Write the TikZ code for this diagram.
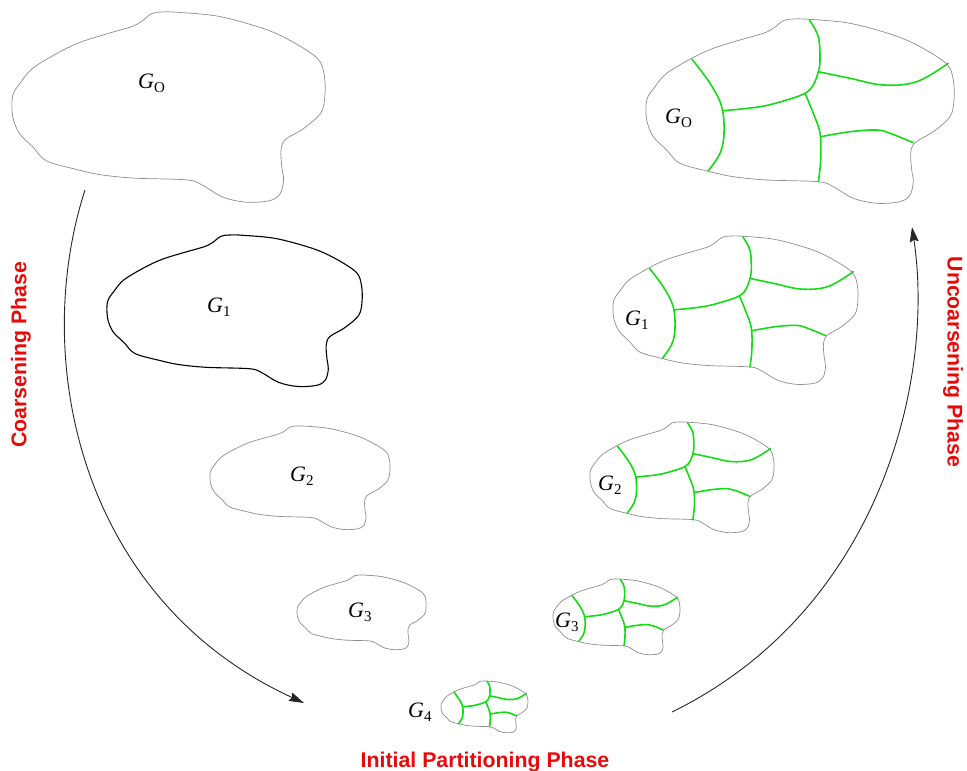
\documentclass[tikz,border=0pt]{standalone}
\usepackage{fontspec}
\setmainfont{Liberation Serif}
\newfontfamily\phasefont{Liberation Sans}
\usetikzlibrary{arrows.meta}

\definecolor{outlinegray}{RGB}{140,140,140}
\definecolor{partgreen}{RGB}{20,220,20}
\definecolor{phasered}{RGB}{232,10,10}

% outline of the graph region, in its own 308 x 185 frame
\newcommand\regionoutline[1]{%
  \draw[#1] plot[smooth cycle, tension=0.55] coordinates {
    (117.3,14.3) (127.3,9.3) (137.3,1.7) (147.3,0) (163.3,0.3) (204,4.3)
    (247.3,16) (274,27.7) (300.7,45) (307.3,61) (308,81) (304,97.7)
    (287.3,112.7) (269,123.7) (264.7,134.3) (265.7,151) (267.3,162.7)
    (264,176) (254,182.7) (230.7,184.3) (207.3,179.3) (187.3,167.7)
    (172.3,162.7) (120.7,161) (87.3,157.7) (64,152.7) (34,144.3)
    (20.7,131) (7.3,117.7) (0.7,101) (0.7,81) (9,67.7) (20.7,54.3)
    (45.7,39.3) (67.3,29.3) (94,21)};}

% partition boundaries, same frame
\newcommand\regioncuts{%
  \draw[cut] plot[smooth, tension=0.6] coordinates {
    (46,40.3) (64,64.3) (75.7,87.7) (78,114.3) (74,134.3) (62.3,151.7)};
  \draw[cut] plot[smooth, tension=0.6] coordinates {
    (163.3,1) (172.3,17.7) (174,41) (172.3,52.7) (167.3,66) (159,74.3)
    (140.7,81) (114,87.7) (77.3,91.7)};
  \draw[cut] plot[smooth, tension=0.6] coordinates {
    (172.3,52.7) (204,59.3) (237.3,66) (270.7,62.7) (302.3,44.3)};
  \draw[cut] plot[smooth, tension=0.6] coordinates {
    (159,74.3) (167.3,94.3) (174,114.3) (174.7,141) (172.3,162.7)};
  \draw[cut] plot[smooth, tension=0.6] coordinates {
    (174.7,117.7) (204,112.7) (230.7,111) (244,114.3) (267.3,123.7)};}

% G with a subscript
\newcommand\glab[1]{\textit{G}\raisebox{-4pt}{\fontsize{15}{15}\selectfont #1}}

\tikzset{
  plainline/.style={draw=outlinegray, line width=0.7pt},
  boldline/.style={draw=black, line width=1.1pt},
  cut/.style={draw=partgreen, line width=1.6pt, line cap=round},
  glabel/.style={anchor=base west, inner sep=0pt, font=\fontsize{22}{22}\selectfont},
  phase/.style={text=phasered, inner sep=0pt, font=\phasefont\bfseries\fontsize{21.3}{24}\selectfont},
  flow/.style={draw=black!85, line width=0.9pt, -{Stealth[length=15pt,width=9pt,inset=2pt]}}
}

\begin{document}
\begin{tikzpicture}[x=1pt, y=-1pt]
\useasboundingbox (0,0) rectangle (967,771);

% coarsening side: plain regions
\begin{scope}[shift={(12,12)}, xscale=1.016, yscale=1.032]
  \regionoutline{plainline}
\end{scope}
\begin{scope}[shift={(107,235)}, xscale=0.828, yscale=0.822]
  \regionoutline{boldline}
\end{scope}
\begin{scope}[shift={(210,426)}, xscale=0.584, yscale=0.562]
  \regionoutline{plainline}
\end{scope}
\begin{scope}[shift={(297,575)}, xscale=0.419, yscale=0.405]
  \regionoutline{plainline}
\end{scope}

% coarsest graph with its initial partition
\begin{scope}[shift={(441,681)}, xscale=0.282, yscale=0.281]
  \regioncuts
  \regionoutline{plainline}
\end{scope}

% uncoarsening side: partitioned regions
\begin{scope}[shift={(553,579)}, xscale=0.412, yscale=0.411]
  \regioncuts
  \regionoutline{plainline}
\end{scope}
\begin{scope}[shift={(590,422)}, xscale=0.597, yscale=0.600]
  \regioncuts
  \regionoutline{plainline}
\end{scope}
\begin{scope}[shift={(613,236)}, xscale=0.795, yscale=0.805]
  \regioncuts
  \regionoutline{plainline}
\end{scope}
\begin{scope}[shift={(646,19)}]
  \regioncuts
  \regionoutline{plainline}
\end{scope}

% graph labels
\node[glabel] (lG0) at (138,88)  {\glab{O}};
\node[glabel] (lG1) at (207,312) {\glab{1}};
\node[glabel] (lG2) at (290,481) {\glab{2}};
\node[glabel] (lG3) at (348,617) {\glab{3}};
\node[glabel] (G4)  at (408,717) {\glab{4}};
\node[glabel] (rG3) at (555,627) {\glab{3}};
\node[glabel] (rG2) at (598,490) {\glab{2}};
\node[glabel] (rG1) at (625,325) {\glab{1}};
\node[glabel] (rG0) at (665,123) {\glab{O}};

% phase arrows
\coordinate (coarseFrom) at (85,190);
\coordinate (coarseTo)   at (304,703);
\coordinate (uncoarseFrom) at (672,712);
\coordinate (uncoarseTo)   at (912,227);
\draw[flow] (coarseFrom) .. controls (30,360) and (80,600) .. (coarseTo);
\draw[flow] (uncoarseFrom) .. controls (880,610) and (935,380) .. (uncoarseTo);

% phase names
\node[phase, anchor=base, rotate=90]  (coarsening)   at (26.5,355) {Coarsening Phase};
\node[phase, anchor=base, rotate=-90] (uncoarsening) at (947.5,362) {Uncoarsening Phase};
\node[phase, anchor=base] (initial) at (485,767) {Initial Partitioning Phase};
\end{tikzpicture}
\end{document}
